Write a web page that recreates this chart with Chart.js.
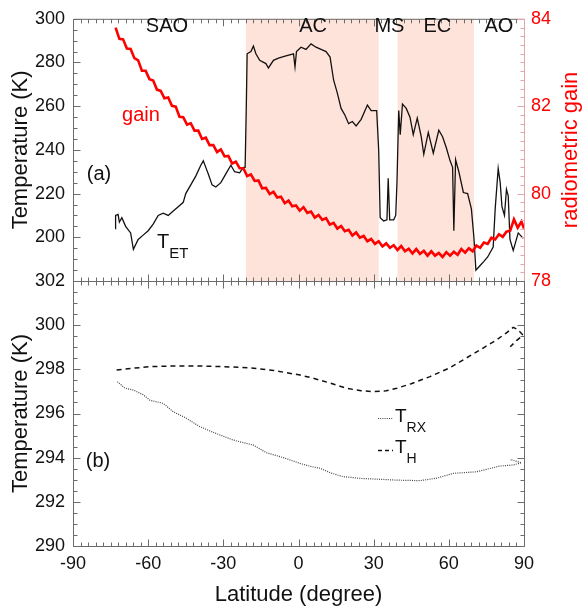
<!DOCTYPE html>
<html>
<head>
<meta charset="utf-8">
<script src="https://cdn.jsdelivr.net/npm/chart.js@4"></script>
<style>
  body { margin: 0; background: #fff; }
  #wrap { position: relative; width: 583px; height: 609px; }
  canvas { position: absolute; left: 0; top: 0; }
</style>
</head>
<body>
<div id="wrap">
  <canvas id="topChart" width="583" height="609"></canvas>
  <canvas id="bottomChart" width="583" height="609"></canvas>
</div>
<script>
// ---- data ----
// panel (a): extraterrestrial temperature T_ET (K)
const tetLat = [-73.2, -73, -72, -71.5, -70.5, -69, -67, -65.9, -64, -62, -60, -58, -56, -54, -52, -50, -48, -46, -45, -43, -41, -39, -38, -37, -36, -34.5, -33, -31, -29, -27, -25.5, -23.5, -22, -21.3, -20.8, -20.5, -19, -18, -17, -15.5, -13, -12, -10, -8, -5, -2, -1.4, -0.8, 1, 3, 5, 7, 9, 11, 12.6, 14, 15.5, 17, 18.5, 20, 21.5, 23, 25, 27.5, 29, 31.2, 32, 32.6, 34, 35.3, 35.8, 36.4, 38, 38.8, 39.3, 40, 40.6, 41.5, 43, 44.5, 45.8, 47.4, 49, 50, 51.8, 53.8, 56, 57.5, 59, 60.5, 61.5, 62, 62.7, 64, 65.8, 67.5, 69, 70, 70.8, 72.4, 74, 75.5, 77.7, 78.5, 79.7, 80.5, 81.2, 82.2, 83, 83.7, 84.4, 85.7, 87.7, 89.7];
const tetVal = [204, 210, 210.5, 207, 209, 205, 202, 194.5, 199, 201, 203, 206, 210, 211, 210, 212, 214, 216, 220, 224, 228, 233, 235, 232, 229, 224, 223, 225, 229, 233, 230, 229.5, 232, 232, 262, 284, 285, 287.5, 284, 281, 279.5, 277.5, 281, 282, 283, 284, 278, 285, 287, 286, 288.5, 287, 286, 285, 282.5, 272, 266, 259, 256, 252, 253, 251, 254, 260.5, 258, 258, 240, 209, 207.5, 208, 227, 208, 208, 210, 225, 258, 247, 261, 259, 255, 247, 254.5, 246, 238, 248, 238.5, 249, 246, 241, 235, 232, 203, 235.5, 230, 220.5, 220, 213, 200, 185, 187, 189, 191, 195.5, 213, 231.5, 225, 214, 210, 222, 219, 199, 194, 202, 199.5];

// panel (a): radiometric gain (noisy trace)
const gainLat = [-73, -71.5, -70, -68.5, -67, -65.5, -64, -62.5, -61, -59.5, -58, -56.5, -55, -53.5, -52, -50.5, -49, -47.5, -46, -44.5, -43, -41.5, -40, -38.5, -37, -35.5, -34, -32.5, -31, -29.5, -28, -26.5, -25, -23.5, -22, -20.5, -19, -17.5, -16, -14.5, -13, -11.5, -10, -8.5, -7, -5.5, -4, -2.5, -1, 0.5, 2, 3.5, 5, 6.5, 8, 9.5, 11, 12.5, 14, 15.5, 17, 18.5, 20, 21.5, 23, 24.5, 26, 27.5, 29, 30.5, 32, 33.5, 35, 36.5, 38, 39.5, 41, 42.5, 44, 45.5, 47, 48.5, 50, 51.5, 53, 54.5, 56, 57.5, 59, 60.5, 62, 63.5, 65, 66.5, 68, 69.5, 71, 72.5, 74, 75.5, 77, 78.5, 80, 81.5, 83, 84.5, 86, 87.5, 89, 90];
const gainVal = [83.80, 83.54, 83.53, 83.32, 83.31, 83.10, 83.05, 82.81, 82.81, 82.62, 82.59, 82.38, 82.35, 82.18, 82.20, 82.01, 81.99, 81.76, 81.75, 81.58, 81.61, 81.44, 81.44, 81.25, 81.28, 81.11, 81.11, 80.95, 81.01, 80.85, 80.86, 80.69, 80.73, 80.58, 80.58, 80.40, 80.44, 80.29, 80.30, 80.12, 80.13, 79.99, 80.04, 79.91, 79.93, 79.78, 79.84, 79.71, 79.73, 79.61, 79.69, 79.56, 79.59, 79.45, 79.51, 79.40, 79.44, 79.29, 79.33, 79.20, 79.26, 79.14, 79.17, 79.04, 79.11, 78.99, 79.03, 78.91, 78.96, 78.85, 78.91, 78.79, 78.86, 78.76, 78.82, 78.71, 78.80, 78.68, 78.74, 78.63, 78.73, 78.62, 78.69, 78.58, 78.68, 78.58, 78.64, 78.55, 78.66, 78.58, 78.67, 78.60, 78.73, 78.65, 78.75, 78.68, 78.81, 78.76, 78.88, 78.85, 78.99, 78.95, 79.07, 79.01, 79.13, 79.15, 79.41, 79.22, 79.36, 79.20];

// shaded regions and their names
const shadeFrom = [-21, 39.5];
const shadeTo = [32, 70];
const regionNames = ['SAO', 'AC', 'MS', 'EC', 'AO'];
const regionLat = [-52.5, 5.8, 36.3, 55.4, 80];

// panel (b): receiver temperature T_RX and hot load T_H (K)
const trxLat = [-72.3, -69.2, -65.9, -62, -59.3, -54, -50, -45, -39.3, -33, -26.1, -21, -18, -12.7, -6, 0.6, 5, 8.6, 13, 17.9, 25, 32.5, 40, 48.5, 55.1, 61.8, 71.1, 76, 80.4, 85.7, 89, 86.5, 84.4];
const trxVal = [297.44, 297.14, 297.06, 296.85, 296.6, 296.46, 296.08, 295.8, 295.4, 295.1, 294.8, 294.65, 294.57, 294.22, 294.0, 293.74, 293.6, 293.52, 293.3, 293.14, 293.06, 293.02, 292.98, 292.96, 293.07, 293.29, 293.36, 293.5, 293.62, 293.67, 293.77, 293.85, 293.92];
const thLat = [-72.6, -66, -59.3, -50, -39.3, -30, -19.4, -10, 0.6, 5.8, 12, 19.2, 25, 29.7, 35, 39.2, 45, 52.5, 60, 65.6, 72, 79, 83, 85.7, 87.5, 89.6, 87, 84.5];
const thVal = [297.97, 298.05, 298.12, 298.15, 298.15, 298.12, 298.07, 297.95, 297.74, 297.6, 297.4, 297.14, 297.03, 296.99, 297.03, 297.14, 297.35, 297.67, 298.05, 298.42, 298.85, 299.33, 299.65, 299.9, 299.8, 299.55, 299.3, 299.02];

// ---- helpers ----
const FONT = "'Liberation Sans', Arial, sans-serif";
const AXIS_GRAY = '#6b6b6b';
const GAIN_PINK = '#e8a3ad';
Chart.defaults.font.family = FONT;
Chart.defaults.color = '#111';

function toPoints(xs, ys) {
  return xs.map((x, i) => ({ x: x, y: ys[i] }));
}

// inward tick marks along a horizontal edge (dir +1 = down, -1 = up)
function xTicks(ctx, scale, y, dir, minor, major) {
  const n = Math.round((scale.max - scale.min) / minor);
  const ratio = Math.round(major / minor);
  for (let i = 0; i <= n; i++) {
    const x = Math.round(scale.getPixelForValue(scale.min + i * minor)) + 0.5;
    const len = i % ratio === 0 ? 7 : 4;
    ctx.moveTo(x, y);
    ctx.lineTo(x, y + dir * len);
  }
}

// inward tick marks along a vertical edge (dir +1 = right, -1 = left)
function yTicks(ctx, scale, x, dir, minor, major) {
  const n = Math.round((scale.max - scale.min) / minor);
  const ratio = Math.round(major / minor);
  for (let i = 0; i <= n; i++) {
    const y = Math.round(scale.getPixelForValue(scale.min + i * minor)) + 0.5;
    const len = i % ratio === 0 ? 7 : 4;
    ctx.moveTo(x, y);
    ctx.lineTo(x + dir * len, y);
  }
}

function subText(ctx, main, sub, x, y, size, subSize, color) {
  ctx.fillStyle = color || '#111';
  ctx.textAlign = 'left';
  ctx.textBaseline = 'alphabetic';
  ctx.font = size + 'px ' + FONT;
  ctx.fillText(main, x, y);
  const w = ctx.measureText(main).width;
  ctx.font = subSize + 'px ' + FONT;
  ctx.fillText(sub, x + w, y + 10);
}

function text(ctx, str, x, y, size, color, align) {
  ctx.fillStyle = color || '#111';
  ctx.font = size + 'px ' + FONT;
  ctx.textAlign = align || 'center';
  ctx.textBaseline = 'alphabetic';
  ctx.fillText(str, x, y);
}

// ---- panel (a) ----
const topPlugin = {
  id: 'topDecor',
  beforeDatasetsDraw(chart) {
    const { ctx, chartArea: a, scales } = chart;
    ctx.save();
    ctx.fillStyle = '#fde3da';
    shadeFrom.forEach((f, i) => {
      const x0 = scales.x.getPixelForValue(f);
      const x1 = scales.x.getPixelForValue(shadeTo[i]);
      ctx.fillRect(x0, a.top, x1 - x0, a.bottom - a.top);
    });
    ctx.restore();
  },
  afterDraw(chart) {
    const { ctx, chartArea: a, scales } = chart;
    ctx.save();
    // frame
    ctx.lineWidth = 1;
    ctx.strokeStyle = AXIS_GRAY;
    ctx.beginPath();
    ctx.moveTo(a.right, a.top + 0.5);
    ctx.lineTo(a.left + 0.5, a.top + 0.5);
    ctx.lineTo(a.left + 0.5, a.bottom + 0.5);
    ctx.lineTo(a.right, a.bottom + 0.5);
    xTicks(ctx, scales.x, a.top + 0.5, 1, 3, 30);
    xTicks(ctx, scales.x, a.bottom + 0.5, -1, 3, 30);
    yTicks(ctx, scales.y, a.left + 0.5, 1, 5, 20);
    ctx.stroke();
    ctx.strokeStyle = GAIN_PINK;
    ctx.beginPath();
    ctx.moveTo(a.right + 0.5, a.top);
    ctx.lineTo(a.right + 0.5, a.bottom + 1);
    yTicks(ctx, scales.y1, a.right + 0.5, -1, 0.2, 2);
    ctx.stroke();

    // region names
    regionNames.forEach((name, i) => {
      text(ctx, name, scales.x.getPixelForValue(regionLat[i]), 32, 20, '#111');
    });
    text(ctx, '(a)', 99, 180, 20, '#111');
    text(ctx, 'gain', 141, 121, 20, '#ff0000');
    subText(ctx, 'T', 'ET', 157, 248, 20, 15);

    // right axis title, reading bottom to top
    ctx.translate(571, (a.top + a.bottom) / 2);
    ctx.rotate(-Math.PI / 2);
    ctx.fillStyle = '#ff0000';
    ctx.font = '22px ' + FONT;
    ctx.textAlign = 'center';
    ctx.textBaseline = 'middle';
    ctx.fillText('radiometric gain', 0, 0);
    ctx.restore();
  }
};

new Chart(document.getElementById('topChart'), {
  type: 'line',
  data: {
    datasets: [
      {
        label: 'gain',
        data: toPoints(gainLat, gainVal),
        yAxisID: 'y1',
        borderColor: '#ff0000',
        borderWidth: 2.6,
        pointRadius: 0,
        tension: 0,
        order: 0
      },
      {
        label: 'T_ET',
        data: toPoints(tetLat, tetVal),
        yAxisID: 'y',
        borderColor: '#151010',
        borderWidth: 1.3,
        pointRadius: 0,
        tension: 0,
        order: 1
      }
    ]
  },
  options: {
    responsive: false,
    animation: false,
    devicePixelRatio: 1,
    layout: { padding: { top: 15, bottom: 328, left: 0, right: 0 } },
    plugins: { legend: { display: false }, tooltip: { enabled: false } },
    scales: {
      x: { type: 'linear', min: -90, max: 90, display: false },
      y: {
        position: 'left',
        min: 180,
        max: 300,
        afterFit(s) { s.width = 73; },
        grid: { display: false, drawTicks: false },
        border: { display: false },
        ticks: {
          stepSize: 20,
          padding: 8,
          color: '#111',
          font: { size: 18 },
          callback: v => (v === 180 ? '' : v)
        },
        title: {
          display: true,
          text: 'Temperature (K)',
          color: '#111',
          font: { size: 22 },
          padding: { top: 8, bottom: 0 }
        }
      },
      y1: {
        position: 'right',
        min: 78,
        max: 84,
        afterFit(s) { s.width = 59; },
        grid: { display: false, drawTicks: false },
        border: { display: false },
        ticks: { stepSize: 2, padding: 7, color: '#ff0000', font: { size: 18 } }
      }
    }
  },
  plugins: [topPlugin]
});

// ---- panel (b) ----
const bottomPlugin = {
  id: 'bottomDecor',
  afterDraw(chart) {
    const { ctx, chartArea: a, scales } = chart;
    ctx.save();
    ctx.lineWidth = 1;
    ctx.strokeStyle = AXIS_GRAY;
    ctx.beginPath();
    ctx.rect(a.left + 0.5, a.top + 0.5, a.right - a.left, a.bottom - a.top);
    xTicks(ctx, scales.x, a.top + 0.5, 1, 3, 30);
    xTicks(ctx, scales.x, a.bottom + 0.5, -1, 3, 30);
    yTicks(ctx, scales.y, a.left + 0.5, 1, 0.5, 2);
    yTicks(ctx, scales.y, a.right + 0.5, -1, 0.5, 2);
    ctx.stroke();

    text(ctx, '(b)', 98, 467, 20, '#111');

    // legend
    ctx.lineWidth = 1.2;
    ctx.strokeStyle = '#444';
    ctx.setLineDash([1, 1.2]);
    ctx.beginPath();
    ctx.moveTo(378, 418.5);
    ctx.lineTo(393, 418.5);
    ctx.stroke();
    ctx.strokeStyle = '#111';
    ctx.lineWidth = 1.5;
    ctx.setLineDash([4, 3]);
    ctx.beginPath();
    ctx.moveTo(378, 450.5);
    ctx.lineTo(393, 450.5);
    ctx.stroke();
    ctx.setLineDash([]);
    subText(ctx, 'T', 'RX', 395, 422, 19, 14);
    subText(ctx, 'T', 'H', 395, 453, 19, 14);
    ctx.restore();
  }
};

new Chart(document.getElementById('bottomChart'), {
  type: 'line',
  data: {
    datasets: [
      {
        label: 'T_RX',
        data: toPoints(trxLat, trxVal),
        borderColor: '#444',
        borderWidth: 1.2,
        borderDash: [1, 1.2],
        pointRadius: 0,
        tension: 0
      },
      {
        label: 'T_H',
        data: toPoints(thLat, thVal),
        borderColor: '#111',
        borderWidth: 1.5,
        borderDash: [5, 4],
        pointRadius: 0,
        tension: 0
      }
    ]
  },
  options: {
    responsive: false,
    animation: false,
    devicePixelRatio: 1,
    layout: { padding: { top: 281, right: 59, left: 0, bottom: 0 } },
    plugins: { legend: { display: false }, tooltip: { enabled: false } },
    scales: {
      x: {
        type: 'linear',
        min: -90,
        max: 90,
        afterFit(s) { s.height = 63; },
        grid: { display: false, drawTicks: false },
        border: { display: false },
        ticks: { stepSize: 30, padding: 7, color: '#111', font: { size: 18 }, maxRotation: 0 },
        title: {
          display: true,
          text: 'Latitude (degree)',
          color: '#111',
          font: { size: 22 },
          padding: { top: 0, bottom: 1 }
        }
      },
      y: {
        min: 290,
        max: 302,
        afterFit(s) { s.width = 73; },
        grid: { display: false, drawTicks: false },
        border: { display: false },
        ticks: { stepSize: 2, padding: 8, color: '#111', font: { size: 18 } },
        title: {
          display: true,
          text: 'Temperature (K)',
          color: '#111',
          font: { size: 22 },
          padding: { top: 8, bottom: 0 }
        }
      }
    }
  },
  plugins: [bottomPlugin]
});
</script>
</body>
</html>
